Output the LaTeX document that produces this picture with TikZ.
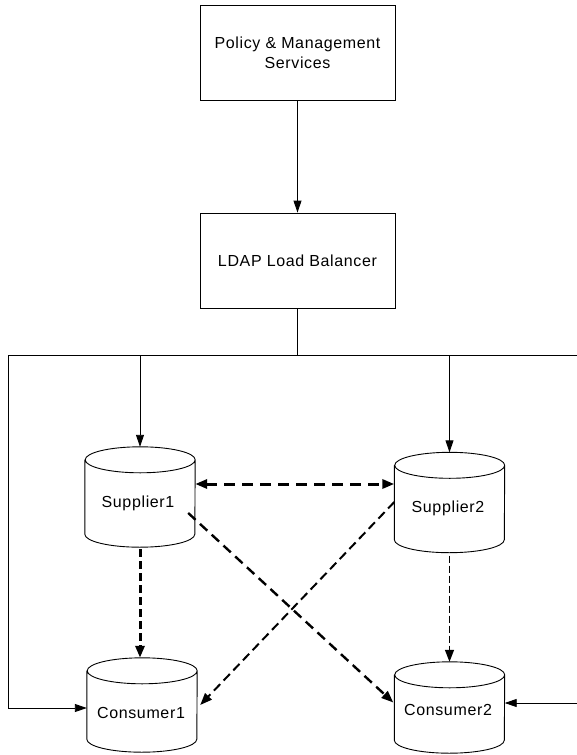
\documentclass[tikz,border=0pt]{standalone}
\usepackage{fontspec}
\setmainfont{Liberation Sans}[LetterSpace=4]
\usetikzlibrary{arrows.meta}
\tikzset{
  box/.style={draw, line width=0.9pt, minimum width=195pt, minimum height=95pt, align=center,
              font=\fontsize{16}{20}\selectfont, inner sep=0pt},
  cylbox/.style={minimum width=110pt, inner sep=0pt},
  lbl/.style={font=\fontsize{16}{18}\selectfont, inner sep=0pt},
  conn/.style={line width=0.9pt, -{Triangle[length=12pt,width=8pt]}},
  plain/.style={line width=0.9pt},
  dthick/.style={line width=3pt, dash pattern=on 11pt off 7pt},
  dvthick/.style={line width=3pt, dash pattern=on 8pt off 4pt},
  dmid/.style={line width=2.4pt, dash pattern=on 10pt off 6pt},
  dmid2/.style={line width=2pt, dash pattern=on 9pt off 5pt},
  dthin/.style={line width=1.4pt, dash pattern=on 7pt off 3pt},
  tip/.style={-{Triangle[length=12pt,width=9pt]}},
  tips/.style={{Triangle[length=12pt,width=9pt]}-{Triangle[length=12pt,width=9pt]}},
}
\newcommand\drawcyl[2]{%
  \draw[plain] ([yshift=-#2]#1.north west) -- ([yshift=#2]#1.south west)
    arc[start angle=180,end angle=360,x radius=55pt,y radius=#2]
    -- ([yshift=-#2]#1.north east)
    arc[start angle=0,end angle=360,x radius=55pt,y radius=#2];}
\begin{document}
\begin{tikzpicture}[x=1pt,y=1pt]
\useasboundingbox (0,0) rectangle (577,-755);
\clip (0,0) rectangle (577,-755);
\fill[white] (0,0) rectangle (577,-755);

\node[box] (pm) at (297.5,-52.5) {Policy \& Management\\Services};
\node[box] (lb) at (297.5,-260.5) {LDAP Load Balancer};

\node[cylbox, minimum height=100pt] (s1) at (140,-497) {};
\node[cylbox, minimum height=100pt] (s2) at (449.5,-502.5) {};
\node[cylbox, minimum height=94pt] (c1) at (142,-705) {};
\node[cylbox, minimum height=91pt] (c2) at (449.5,-707.5) {};
\drawcyl{s1}{13pt}
\drawcyl{s2}{13pt}
\drawcyl{c1}{13pt}
\drawcyl{c2}{13pt}
\node[lbl] (ts1) at (138,-503) {Supplier1};
\node[lbl] (ts2) at (448,-508) {Supplier2};
\node[lbl] (tc1) at (141,-713) {Consumer1};
\node[lbl] (tc2) at (448,-710) {Consumer2};

\coordinate (bus) at (297.5,-355);
\coordinate (busL) at (8,-355);
\coordinate (busR) at (590,-355);
\coordinate (cornL) at (8,-708);
\coordinate (cornR) at (590,-703);

\draw[conn] (pm) -- (lb);
\draw[plain] (lb.south) -- (bus);
\draw[plain] (busL) -- (busR);
\draw[conn] (s1.north |- bus) -- (s1.north);
\draw[conn] (s2.north |- bus) -- (s2.north);
\draw[conn] (busL) -- (cornL) -- (c1.west |- cornL);
\draw[conn] (busR) -- (cornR) -- (c2.east |- cornR);

\draw[dthick, tips] (s1.east |- 0,-484) -- (s2.west |- 0,-484);
\draw[dvthick, tip] ([yshift=-2pt]s1.south) -- (s1.south |- c1.north);
\draw[dthin, tip] ([yshift=-3pt]s2.south) -- (c2.north);
\draw[dmid, tip] ([xshift=-7pt,yshift=-16pt]s1.east) -- ([xshift=-1pt,yshift=5pt]c2.west);
\draw[dmid2, tip] ([yshift=0.5pt]s2.west) -- ([xshift=3pt,yshift=0pt]c1.east);
\end{tikzpicture}
\end{document}
